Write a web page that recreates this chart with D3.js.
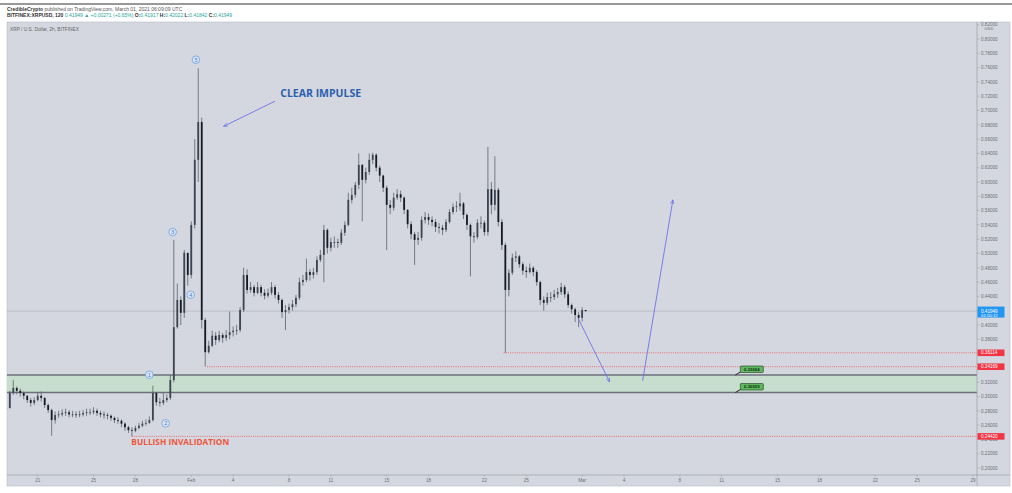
<!DOCTYPE html>
<html><head><meta charset="utf-8">
<script src="https://cdn.jsdelivr.net/npm/d3@7"></script>
<style>body{margin:0;background:#fff;} svg{display:block;font-family:"Liberation Sans",Arial,sans-serif;}</style>
</head><body><svg id="c" width="1012" height="493"></svg>
<script>
// ---------------- DATA ----------------
const firstCandle = Date.UTC(2021, 0, 18, 18); // 2h chart, sampled every 6h
const stepHours = 6;
const closes = [
0.284,0.305,0.312,0.308, 0.305,0.301,0.295,0.291, 0.295,0.301,0.298,0.288,
0.281,0.267,0.274,0.275, 0.277,0.278,0.275,0.275, 0.274,0.275,0.277,0.278,
0.278,0.280,0.277,0.275, 0.274,0.273,0.270,0.267, 0.266,0.262,0.257,0.253,
0.252,0.256,0.259,0.262, 0.263,0.267,0.305,0.292, 0.291,0.295,0.298,0.323,
0.397,0.435,0.417,0.501, 0.470,0.540,0.631,0.684, 0.407,0.362,0.371,0.385,
0.379,0.386,0.382,0.386, 0.390,0.392,0.393,0.421, 0.470,0.449,0.453,0.445,
0.453,0.445,0.441,0.445, 0.453,0.442,0.435,0.418, 0.421,0.425,0.429,0.438,
0.460,0.463,0.474,0.470, 0.474,0.491,0.498,0.533, 0.508,0.516,0.516,0.515,
0.529,0.540,0.575,0.582, 0.596,0.624,0.603,0.614, 0.631,0.638,0.620,0.609,
0.592,0.568,0.564,0.578, 0.583,0.578,0.561,0.541, 0.527,0.519,0.522,0.547,
0.551,0.547,0.544,0.537, 0.536,0.533,0.544,0.558, 0.565,0.566,0.570,0.554,
0.540,0.524,0.523,0.543, 0.543,0.530,0.590,0.568, 0.589,0.544,0.512,0.449,
0.473,0.494,0.496,0.485, 0.476,0.474,0.480,0.474, 0.460,0.435,0.431,0.439,
0.439,0.443,0.446,0.453, 0.443,0.428,0.422,0.414, 0.410,0.421,0.41949];
const highs = [
0.288,0.308,0.323,0.314, 0.311,0.307,0.302,0.298, 0.299,0.306,0.307,0.299,
0.290,0.283,0.279,0.280, 0.282,0.283,0.281,0.280, 0.279,0.280,0.281,0.283,
0.283,0.285,0.283,0.280, 0.279,0.277,0.275,0.272, 0.271,0.268,0.264,0.259,
0.257,0.259,0.263,0.266, 0.268,0.272,0.315,0.306, 0.298,0.306,0.303,0.330,
0.519,0.458,0.440,0.505, 0.500,0.545,0.660,0.759, 0.690,0.410,0.378,0.392,
0.390,0.392,0.389,0.393, 0.419,0.398,0.400,0.425, 0.480,0.478,0.460,0.456,
0.460,0.456,0.450,0.451, 0.460,0.456,0.446,0.437, 0.428,0.430,0.435,0.442,
0.466,0.470,0.493,0.478, 0.480,0.496,0.505,0.540, 0.535,0.522,0.524,0.521,
0.534,0.545,0.585,0.592, 0.600,0.640,0.625,0.620, 0.640,0.641,0.640,0.623,
0.610,0.595,0.575,0.585, 0.590,0.588,0.580,0.562, 0.545,0.530,0.530,0.552,
0.558,0.556,0.552,0.548, 0.543,0.540,0.548,0.562, 0.570,0.573,0.585,0.572,
0.556,0.542,0.530,0.548, 0.552,0.546,0.649,0.600, 0.636,0.592,0.548,0.515,
0.478,0.500,0.503,0.498, 0.488,0.482,0.486,0.482, 0.477,0.462,0.440,0.445,
0.446,0.449,0.452,0.459, 0.456,0.447,0.430,0.424, 0.418,0.425,0.42022];
const lows = [
0.280,0.283,0.302,0.303, 0.300,0.296,0.291,0.286, 0.288,0.293,0.293,0.284,
0.277,0.245,0.262,0.270, 0.272,0.273,0.271,0.271, 0.270,0.271,0.272,0.273,
0.274,0.275,0.273,0.271, 0.269,0.268,0.266,0.263, 0.262,0.257,0.252,0.249,
0.2442,0.250,0.254,0.257, 0.259,0.262,0.265,0.287, 0.286,0.288,0.292,0.295,
0.320,0.395,0.400,0.410, 0.455,0.465,0.535,0.600, 0.395,0.3417,0.360,0.369,
0.372,0.376,0.375,0.378, 0.380,0.384,0.386,0.390, 0.418,0.444,0.445,0.440,
0.443,0.440,0.436,0.438, 0.442,0.437,0.430,0.410, 0.393,0.416,0.420,0.425,
0.435,0.455,0.460,0.462, 0.465,0.470,0.488,0.460, 0.500,0.503,0.508,0.508,
0.512,0.525,0.538,0.570, 0.578,0.590,0.545,0.598, 0.610,0.625,0.615,0.600,
0.586,0.505,0.555,0.560, 0.575,0.572,0.555,0.535, 0.520,0.484,0.512,0.518,
0.542,0.540,0.538,0.530, 0.528,0.526,0.530,0.542, 0.555,0.558,0.560,0.548,
0.533,0.468,0.515,0.520, 0.535,0.525,0.525,0.555, 0.560,0.538,0.505,0.36114,
0.440,0.470,0.488,0.480, 0.470,0.466,0.472,0.468, 0.455,0.428,0.420,0.428,
0.432,0.435,0.438,0.442, 0.438,0.424,0.416,0.404, 0.397,0.405,0.41842];

const xTickDates = ["2021-01-21","2021-01-25","2021-01-28","2021-02-01","2021-02-04","2021-02-08","2021-02-11","2021-02-15","2021-02-18","2021-02-22","2021-02-25","2021-03-01","2021-03-04","2021-03-08","2021-03-11","2021-03-15","2021-03-18","2021-03-22","2021-03-25","2021-03-29"];
const xTickLabels = ["21","25","28","Feb","4","8","11","15","18","22","25","Mar","4","8","11","15","18","22","25","29"];
const yTicks = d3.range(0.20, 0.8201, 0.02);

const lastPrice = 0.41949;
const lastCountdown = "01:50:12";
const levelValues = [0.36114, 0.34169, 0.24420];
const levelStarts = ["2021-02-23T09:00Z","2021-02-02T03:00Z","2021-01-27T18:00Z"];
const zoneTop = 0.33004, zoneBottom = 0.30559;
const zoneLabelDay = "2021-03-12T08:00Z";

const waveLabels = ["1","2","3","4","5"];
const waveDates = ["2021-01-29T00:00Z","2021-01-30T04:00Z","2021-01-30T16:00Z","2021-01-31T23:00Z","2021-02-01T08:00Z"];
const waveValues = [0.3304, 0.2625, 0.530, 0.4423, 0.771];

const projDates = ["2021-02-28T17:00Z","2021-03-02T23:00Z","2021-03-05T08:00Z","2021-03-07T12:00Z"];
const projValues = [0.4094, 0.3207, 0.322, 0.5748];

// ---------------- DRAW ----------------
const svg = d3.select("#c");
const W = 1012, H = 493;
const paneL = 7, paneT = 22, paneR = 977, axisB = 475, bottom = 486, outerR = 1010;

const x = d3.scaleUtc().domain([new Date("2021-01-21T00:00Z"), new Date("2021-03-29T00:00Z")]).range([37.7, 973]);
const y = d3.scaleLinear().domain([0.20, 0.80]).range([468, 39]);

svg.append("rect").attr("width", W).attr("height", H).attr("fill", "#fff");
svg.append("line").attr("x1", 0).attr("x2", W).attr("y1", 4).attr("y2", 4).attr("stroke", "#333").attr("stroke-width", 1);

// header
const hdr = svg.append("g").attr("font-size", 5).attr("fill", "#555");
const h1 = hdr.append("text").attr("x", 7).attr("y", 10.5);
h1.append("tspan").attr("font-weight", "bold").attr("fill", "#333").text("CredibleCrypto");
h1.append("tspan").text(" published on TradingView.com, March 01, 2021 06:09:09 UTC");
const h2 = hdr.append("text").attr("x", 7).attr("y", 16.5);
h2.append("tspan").attr("font-weight", "bold").attr("fill", "#333").text("BITFINEX:XRPUSD, 120 ");
h2.append("tspan").attr("fill", "#26a69a").text(d3.format(".5f")(lastPrice) + " ▲ +0.00271 (+0.65%) ");
[["O:", "0.41917"], ["H:", "0.42022"], ["L:", "0.41842"], ["C:", "0.41949"]].forEach(([k, v]) => {
  h2.append("tspan").attr("fill", "#333").attr("font-weight", "bold").text(k);
  h2.append("tspan").attr("fill", "#26a69a").text(v + " ");
});

// pane background
svg.append("rect").attr("x", paneL).attr("y", paneT).attr("width", outerR - paneL).attr("height", bottom - paneT)
  .attr("fill", "#d4d7df").attr("stroke", "#b8bcc6").attr("stroke-width", 0.6);

const clip = svg.append("clipPath").attr("id", "pc").append("rect")
  .attr("x", paneL).attr("y", paneT).attr("width", paneR - paneL).attr("height", axisB - paneT);
const plot = svg.append("g").attr("clip-path", "url(#pc)");

plot.append("text").attr("x", 10).attr("y", 31).attr("font-size", 4.8).attr("fill", "#666").text("XRP / U.S. Dollar, 2h, BITFINEX");

// demand zone
plot.append("rect").attr("x", paneL).attr("width", paneR - paneL)
  .attr("y", y(zoneTop)).attr("height", y(zoneBottom) - y(zoneTop)).attr("fill", "#c7ddcd");
[zoneTop, zoneBottom].forEach(v => plot.append("line").attr("x1", paneL).attr("x2", paneR)
  .attr("y1", y(v)).attr("y2", y(v)).attr("stroke", "#6c7178").attr("stroke-width", 1.4));

// last price line
plot.append("line").attr("x1", paneL).attr("x2", paneR).attr("y1", y(lastPrice)).attr("y2", y(lastPrice))
  .attr("stroke", "#a9adb6").attr("stroke-width", 0.6);

// red level lines
levelValues.forEach((v, i) => plot.append("line").attr("x1", x(new Date(levelStarts[i]))).attr("x2", paneR)
  .attr("y1", y(v)).attr("y2", y(v)).attr("stroke", "#ef5350").attr("stroke-width", 0.8).attr("stroke-dasharray", "1,1.2"));

// candles
const candles = closes.map((c, i) => ({
  t: new Date(firstCandle + i * stepHours * 3600e3),
  o: i === 0 ? c : closes[i - 1], h: highs[i], l: lows[i], c
}));
const cg = plot.append("g");
cg.selectAll("line").data(candles).join("line")
  .attr("x1", d => x(d.t)).attr("x2", d => x(d.t))
  .attr("y1", d => y(d.h)).attr("y2", d => y(d.l))
  .attr("stroke", "#5d626c").attr("stroke-width", 0.8);
cg.selectAll("rect").data(candles).join("rect")
  .attr("x", d => x(d.t) - 0.9).attr("width", 1.8)
  .attr("y", d => y(Math.max(d.o, d.c)))
  .attr("height", d => Math.max(0.8, Math.abs(y(d.o) - y(d.c))))
  .attr("fill", d => d.c >= d.o ? "#3e4552" : "#151a24");

// wave labels
waveLabels.forEach((t, i) => {
  const g = plot.append("g").attr("transform", `translate(${x(new Date(waveDates[i]))},${y(waveValues[i])})`);
  g.append("circle").attr("r", 3.8).attr("fill", "#dbe4f3").attr("stroke", "#5b9be0").attr("stroke-width", 0.7);
  g.append("text").attr("text-anchor", "middle").attr("dy", 1.9).attr("font-size", 5.5).attr("fill", "#3d7fd0").text(t);
});

// arrows
const defs = svg.append("defs");
defs.append("marker").attr("id", "ah").attr("viewBox", "0 0 10 10").attr("refX", 9).attr("refY", 5)
  .attr("markerWidth", 5).attr("markerHeight", 5).attr("orient", "auto")
  .append("path").attr("d", "M0,1 L10,5 L0,9").attr("fill", "none").attr("stroke", "#6f72e6").attr("stroke-width", 1.5);

// CLEAR IMPULSE
plot.append("text").attr("x", x(new Date("2021-02-07T09:00Z"))).attr("y", y(0.719))
  .attr("font-size", 10.5).attr("font-weight", "bold").attr("fill", "#2b5fae").attr("font-family", "'Open Sans',sans-serif")
  .text("CLEAR IMPULSE");
plot.append("line").attr("x1", x(new Date("2021-02-07T00:00Z"))).attr("y1", y(0.713))
  .attr("x2", x(new Date("2021-02-03T08:00Z"))).attr("y2", y(0.678))
  .attr("stroke", "#6f72e6").attr("stroke-width", 0.9).attr("marker-end", "url(#ah)");

// BULLISH INVALIDATION
plot.append("text").attr("x", x(new Date("2021-01-27T17:00Z"))).attr("y", y(0.232))
  .attr("font-size", 8.3).attr("font-weight", "bold").attr("fill", "#f0553a").attr("font-family", "'Open Sans',sans-serif")
  .text("BULLISH INVALIDATION");

// projection arrows
for (let k = 0; k < 2; k++) {
  plot.append("line")
    .attr("x1", x(new Date(projDates[2 * k]))).attr("y1", y(projValues[2 * k]))
    .attr("x2", x(new Date(projDates[2 * k + 1]))).attr("y2", y(projValues[2 * k + 1]))
    .attr("stroke", "#6f72e6").attr("stroke-width", 0.9).attr("marker-end", "url(#ah)");
}

// zone callout labels
[zoneTop, zoneBottom].forEach(v => {
  const lx = x(new Date(zoneLabelDay));
  const ly = y(v) - 9;
  plot.append("line").attr("x1", lx - 5).attr("y1", y(v)).attr("x2", lx + 1).attr("y2", ly + 5.5)
    .attr("stroke", "#222").attr("stroke-width", 1);
  plot.append("rect").attr("x", lx).attr("y", ly).attr("width", 23).attr("height", 6.5).attr("rx", 0.8)
    .attr("fill", "#5fb760").attr("stroke", "#1f3d1f").attr("stroke-width", 0.6);
  plot.append("text").attr("x", lx + 11.5).attr("y", ly + 4.7).attr("text-anchor", "middle")
    .attr("font-size", 4.3).attr("font-weight", "bold").attr("fill", "#10300f").text(d3.format(".5f")(v));
});

// right axis
svg.append("line").attr("x1", paneR).attr("x2", paneR).attr("y1", paneT).attr("y2", bottom).attr("stroke", "#9a9ea8").attr("stroke-width", 0.7);
const ra = svg.append("g");
yTicks.forEach(v => {
  const yy = y(v);
  if (yy < paneT - 1) return;
  ra.append("line").attr("x1", paneR).attr("x2", paneR + 2.5).attr("y1", yy).attr("y2", yy).attr("stroke", "#9a9ea8").attr("stroke-width", 0.5);
  ra.append("text").attr("x", paneR + 4).attr("y", yy + 1.7).attr("font-size", 4.6).attr("fill", "#6b6f78").text(d3.format(".5f")(v));
});
ra.append("text").attr("x", paneR + 12).attr("y", 30).attr("font-size", 4.2).attr("fill", "#6b6f78").attr("text-anchor", "middle").text("USD");

// axis price labels
levelValues.forEach(v => {
  ra.append("rect").attr("x", paneR + 0.5).attr("y", y(v) - 3.3).attr("width", 27).attr("height", 6.6).attr("fill", "#f23645");
  ra.append("text").attr("x", paneR + 4).attr("y", y(v) + 1.7).attr("font-size", 4.6).attr("fill", "#fff").text(d3.format(".5f")(v));
});
ra.append("rect").attr("x", paneR + 0.5).attr("y", y(lastPrice) - 4.5).attr("width", 27).attr("height", 11).attr("fill", "#2196f3");
ra.append("text").attr("x", paneR + 4).attr("y", y(lastPrice) + 1.5).attr("font-size", 4.6).attr("fill", "#fff").text(d3.format(".5f")(lastPrice));
ra.append("text").attr("x", paneR + 4).attr("y", y(lastPrice) + 5.6).attr("font-size", 4.3).attr("fill", "#fff").text(lastCountdown);

// bottom axis
svg.append("line").attr("x1", paneL).attr("x2", outerR).attr("y1", axisB).attr("y2", axisB).attr("stroke", "#9a9ea8").attr("stroke-width", 0.7);
const ba = svg.append("g");
xTickDates.forEach((d, i) => {
  const xx = x(new Date(d + "T00:00Z"));
  ba.append("line").attr("x1", xx).attr("x2", xx).attr("y1", axisB).attr("y2", axisB + 2).attr("stroke", "#9a9ea8").attr("stroke-width", 0.5);
  ba.append("text").attr("x", xx).attr("y", axisB + 6.8).attr("text-anchor", "middle").attr("font-size", 4.6).attr("fill", "#6b6f78").text(xTickLabels[i]);
});
</script></body></html>
